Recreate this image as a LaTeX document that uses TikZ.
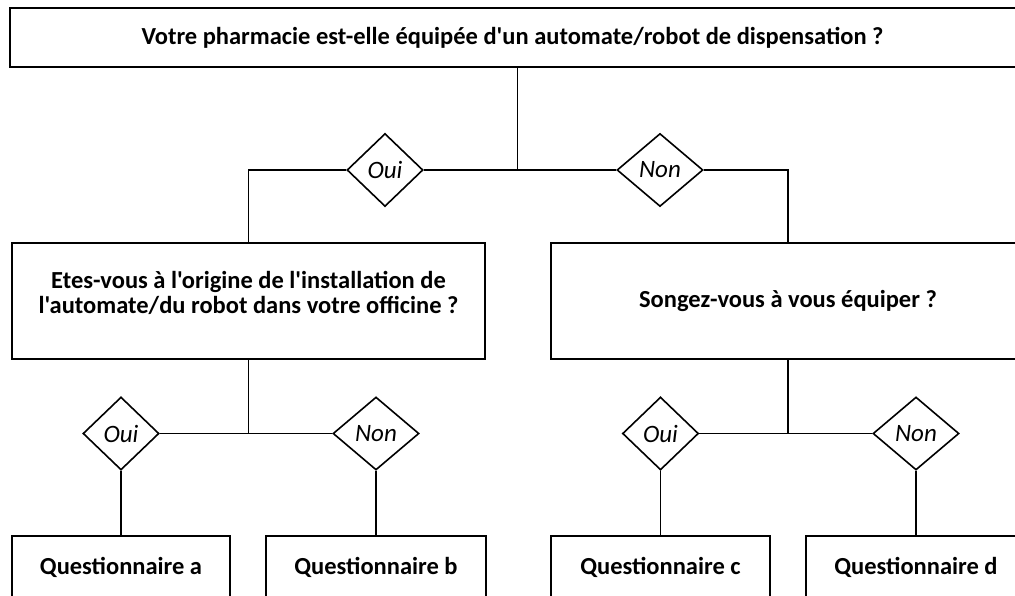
\documentclass[tikz,border=0pt]{standalone}
\usepackage{fontspec}
\setmainfont{Carlito}[Ligatures=TeXOff]
\usetikzlibrary{shapes.geometric}
\tikzset{
  box/.style={draw, line width=1.6pt, rectangle, inner sep=0pt, align=center,
    font=\fontsize{24.5}{25}\selectfont\bfseries},
  choice/.style={draw, line width=1.6pt, diamond, inner sep=0pt, fill=white,
    minimum height=73pt, font=\fontsize{25}{26}\selectfont\itshape},
  link/.style={line width=1.6pt}
}
\begin{document}
\begin{tikzpicture}[x=1pt,y=-1pt]
\useasboundingbox (0,0) rectangle (1015,595);
\clip (0,0) rectangle (1015,595);
% boxes
\node[box, minimum width=1015pt, minimum height=59pt] (top) at (517.5,37.5)
  {Votre pharmacie est-elle équipée d'un automate/robot de dispensation ?\hspace*{10pt}};
\node[box, minimum width=473pt, minimum height=116pt] (left) at (248.5,301)
  {Etes-vous à l'origine de l'installation de\\l'automate/du robot dans votre officine ?\\[-7pt]\mbox{}};
\node[box, minimum width=474pt, minimum height=116pt] (right) at (788,301)
  {Songez-vous à vous équiper ?};
\node[box, minimum width=218pt, minimum height=62pt] (qa) at (121,567) {Questionnaire a};
\node[box, minimum width=220pt, minimum height=62pt] (qb) at (376,567) {Questionnaire b};
\node[box, minimum width=219pt, minimum height=62pt] (qc) at (660.5,567) {Questionnaire c};
\node[box, minimum width=220pt, minimum height=62pt] (qd) at (916,567) {Questionnaire d};
% diamonds
\node[choice, minimum width=76pt] (d1) at (385,170) {Oui};
\node[choice, minimum width=86pt] (d2) at (660,170) {Non};
\node[choice, minimum width=76pt] (d3) at (121,433.5) {Oui};
\node[choice, minimum width=86pt] (d4) at (376,433.5) {Non};
\node[choice, minimum width=76pt] (d5) at (660.5,433.5) {Oui};
\node[choice, minimum width=86pt] (d6) at (916,433.5) {Non};
% junctions
\coordinate (j1) at (517.5,170);
\coordinate (j2) at (248.5,433.5);
\coordinate (j3) at (788,433.5);
% connectors
\draw[link] (top.south) -- (j1);
\draw[link] (j1) -- (d1.east);
\draw[link] (j1) -- (d2.west);
\draw[link] (d1.west) -| (left.north);
\draw[link] (d2.east) -| (right.north);
\draw[link] (left.south) -- (j2);
\draw[link] (j2) -- (d3.east);
\draw[link] (j2) -- (d4.west);
\draw[link] (d3.south) -- (qa.north);
\draw[link] (d4.south) -- (qb.north);
\draw[link] (right.south) -- (j3);
\draw[link] (j3) -- (d5.east);
\draw[link] (j3) -- (d6.west);
\draw[link] (d5.south) -- (qc.north);
\draw[link] (d6.south) -- (qd.north);
\end{tikzpicture}
\end{document}
